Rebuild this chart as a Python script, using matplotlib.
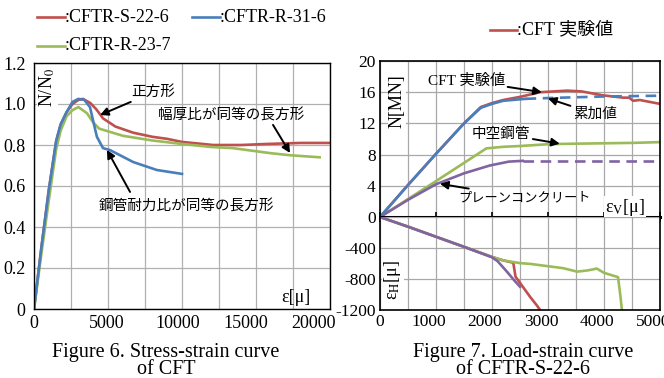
import matplotlib
matplotlib.use("Agg")
import matplotlib.pyplot as plt
from matplotlib.lines import Line2D
from matplotlib.transforms import ScaledTranslation

plt.rcParams["font.family"] = ["Liberation Serif", "Noto Sans CJK JP"]
plt.rcParams["mathtext.fontset"] = "stix"

JP = ["Noto Sans CJK JP", "Liberation Serif"]
SERIF_JP = ["Liberation Serif", "Noto Sans CJK JP"]

RED = "#c0504d"
BLUE = "#4a7ebb"
GREEN = "#9bbb59"
PURPLE = "#8064a2"

# ---- Figure 6 : N/N0 vs strain ----
s22_x = [0, 500, 1000, 1500, 1800, 2200, 2600, 3000, 3300, 3800, 4200, 4460, 4660, 5500, 6700, 8000, 9000, 10000,
         12100, 14000, 15700, 18000, 20000]
s22_y = [0, 0.30, 0.58, 0.82, 0.90, 0.96, 1.00, 1.02, 1.025, 1.005, 0.975, 0.95, 0.93, 0.89, 0.86, 0.84, 0.83, 0.815,
         0.80, 0.80, 0.805, 0.81, 0.81]
r31_x = [0, 500, 1000, 1500, 1800, 2200, 2600, 3000, 3400, 3780, 4250, 4660, 5140, 6700, 8300, 10000]
r31_y = [0, 0.30, 0.58, 0.82, 0.90, 0.96, 1.01, 1.025, 1.02, 0.985, 0.84, 0.785, 0.775, 0.717, 0.678, 0.659]
r23_x = [0, 500, 1000, 1500, 1800, 2200, 2600, 3000, 3580, 4000, 4400, 6000, 8000, 10000, 12000, 13400, 16000,
         17300, 19300]
r23_y = [0, 0.27, 0.53, 0.78, 0.87, 0.94, 0.97, 0.985, 0.955, 0.91, 0.88, 0.845, 0.822, 0.805, 0.79, 0.785, 0.76,
         0.75, 0.74]

# ---- Figure 7 : load / strain of CFTR-S-22-6 ----
cft_x = [0, 500, 1000, 1500, 1800, 2000, 2200, 2500, 2860, 3340, 3600, 3980, 4340, 4450, 4520, 4640, 5000]
cft_y = [0, 4.1, 8.1, 12.0, 14.1, 14.6, 15.0, 15.4, 16.0, 16.2, 16.1, 15.6, 15.3, 15.3, 14.9, 15.0, 14.5]
sum_x = [0, 500, 1000, 1500, 1800, 2000, 2200, 2600]
sum_y = [0, 4.1, 8.1, 12.0, 14.0, 14.5, 14.9, 15.15]
sum_dash_x = [2600, 3000, 3500, 4000, 4500, 5000]
sum_dash_y = [15.15, 15.25, 15.35, 15.45, 15.5, 15.55]
tube_x = [0, 1000, 1900, 2200, 2500, 3040, 3500, 4000, 4500, 5000]
tube_y = [0, 4.6, 8.8, 9.0, 9.1, 9.35, 9.4, 9.45, 9.5, 9.6]
conc_x = [0, 500, 1000, 1500, 1960, 2300, 2550]
conc_y = [0, 2.2, 4.2, 5.6, 6.6, 7.1, 7.2]
conc_dash_x = [2550, 5000]
conc_dash_y = [7.2, 7.2]

eh_cft_x = [0, 500, 1000, 1500, 2000, 2200, 2380, 2400, 2420, 2550, 2680, 2800, 2860]
eh_cft_y = [0, -125, -255, -385, -515, -560, -590, -680, -770, -900, -1030, -1140, -1200]
eh_tube_x = [0, 500, 1000, 1500, 2000, 2200, 2500, 2680, 3000, 3270, 3520, 3700, 3810, 3870, 4000, 4200, 4250,
             4290, 4320]
eh_tube_y = [0, -125, -255, -385, -515, -560, -595, -605, -635, -660, -705, -690, -675, -665, -720, -765, -775,
             -1000, -1200]
eh_conc_x = [0, 500, 1000, 1500, 2000, 2100, 2260, 2400, 2500]
eh_conc_y = [0, -125, -255, -385, -520, -570, -700, -820, -900]

W, H = 664, 378
fig = plt.figure(figsize=(W / 100, H / 100), dpi=100)


def fx(px):
    return px / W


def fy(py):
    return 1 - py / H


def shift_labels(a, offsets_px):
    # the original chart squeezes its x labels a little to the left
    for lab, dx in zip(a.xaxis.get_majorticklabels(), offsets_px):
        lab.set_transform(lab.get_transform() + ScaledTranslation(dx / 100, 0, fig.dpi_scale_trans))


# ================= left chart =================
ax = fig.add_axes([fx(34), fy(309), fx(330) - fx(34), fy(63) - fy(309)])
ax.plot(s22_x, s22_y, color=RED, lw=1.9)
ax.plot(r23_x, r23_y, color=GREEN, lw=1.9)
ax.plot(r31_x, r31_y, color=BLUE, lw=1.9)
ax.set_xlim(0, 20000)
ax.set_ylim(0, 1.2)
ax.set_xticks([0, 5000, 10000, 15000, 20000])
ax.set_xticks(range(0, 20001, 2500), minor=True)
ax.set_yticks([0, 0.2, 0.4, 0.6, 0.8, 1.0, 1.2])
ax.set_yticklabels(["0", "0.2", "0.4", "0.6", "0.8", "1.0", "1.2"])
ax.grid(True, which="both", color="#b0b0b0", lw=0.9)
ax.tick_params(which="both", length=0, labelsize=13, pad=4)
ax.tick_params(axis="y", pad=6)
for sp in ax.spines.values():
    sp.set_color("black")
    sp.set_linewidth(1.0)
ax.set_axisbelow(True)

ax.text(0.045, 0.90, "N/N$_0$", rotation=90, transform=ax.transAxes, ha="center", va="center", fontsize=13,
        bbox=dict(facecolor="white", edgecolor="none", pad=0.5))
ax.text(0.885, 0.045, "ε[μ]", transform=ax.transAxes, ha="center", va="center", fontsize=13)

arrow = dict(arrowstyle="-|>", color="black", lw=1.4, mutation_scale=12, shrinkA=0, shrinkB=0)
ax.annotate("正方形", xy=(4460, 0.946), xytext=(6600, 1.058), family=JP, fontsize=10.5,
            ha="left", va="center", arrowprops=arrow)
ax.annotate("", xy=(17300, 0.761), xytext=(16150, 0.898), arrowprops=arrow)
ax.text(8350, 0.946, "幅厚比が同等の長方形", family=JP, fontsize=10.5, ha="left", va="center")
ax.annotate("", xy=(4930, 0.776), xytext=(6490, 0.571), arrowprops=arrow)
ax.text(4400, 0.498, "鋼管耐力比が同等の長方形", family=JP, fontsize=10.5, ha="left", va="center")

# legend of left chart
for (x0, x1, y, c, lab) in [(37, 65, 17, RED, ":CFTR-S-22-6"), (192, 220, 17, BLUE, ":CFTR-R-31-6"),
                            (37, 65, 46, GREEN, ":CFTR-R-23-7")]:
    fig.add_artist(Line2D([fx(x0), fx(x1)], [fy(y), fy(y)], color=c, lw=1.9, transform=fig.transFigure))
    fig.text(fx(x1), fy(y), lab, fontsize=13, ha="left", va="center")

fig.text(0.25, fy(361), "Figure 6. Stress-strain curve\nof CFT", ha="center", va="center",
         multialignment="center", fontsize=14.5, linespacing=0.85)

# ================= right chart =================
axt = fig.add_axes([fx(380), fy(217), fx(660) - fx(380), fy(61) - fy(217)])
axb = fig.add_axes([fx(380), fy(310), fx(660) - fx(380), fy(217) - fy(310)])

axt.plot(cft_x, cft_y, color=RED, lw=1.9)
axt.plot(tube_x, tube_y, color=GREEN, lw=1.9)
axt.plot(conc_x, conc_y, color=PURPLE, lw=1.9)
axt.plot(conc_dash_x, conc_dash_y, color=PURPLE, lw=1.9, ls=(0, (4, 2.5)))
axt.plot(sum_x, sum_y, color=BLUE, lw=1.9)
axt.plot(sum_dash_x, sum_dash_y, color=BLUE, lw=1.9, ls=(0, (4, 2.5)))

axb.plot(eh_cft_x, eh_cft_y, color=RED, lw=1.9)
axb.plot(eh_tube_x, eh_tube_y, color=GREEN, lw=1.9)
axb.plot(eh_conc_x, eh_conc_y, color=PURPLE, lw=1.9)

for a in (axt, axb):
    a.set_xlim(0, 5000)
    a.set_xticks(range(0, 5001, 500), minor=True)
    a.set_xticks(range(0, 5001, 1000))
    a.grid(True, which="both", color="#a8a8a8", lw=0.9)
    a.set_axisbelow(True)
    for sp in a.spines.values():
        sp.set_color("black")
        sp.set_linewidth(1.2)
    a.tick_params(which="both", length=0, labelsize=12.5, pad=3)

axt.set_ylim(0, 20)
axt.set_yticks([0, 4, 8, 12, 16, 20])
axt.set_yticklabels(["", "4", "8", "12", "16", "20"])
axt.tick_params(axis="x", which="major", labelbottom=False, direction="inout", length=7, width=1.2)
axt.spines["bottom"].set_linewidth(2.2)

axb.set_ylim(-1200, 0)
axb.set_yticks([-1200, -800, -400, 0])
axb.set_yticklabels(["-1200", "-800", "-400", "0"])
axb.spines["top"].set_visible(False)

axt.text(0.06, 0.74, "N[MN]", rotation=90, transform=axt.transAxes, ha="center", va="center", fontsize=13,
         bbox=dict(facecolor="white", edgecolor="none", pad=0.5))
axt.text(0.875, 0.06, "ε$_\\mathrm{V}$[μ]", transform=axt.transAxes, ha="center", va="center", fontsize=13,
         bbox=dict(facecolor="white", edgecolor="none", pad=0.5))
axb.text(0.046, 0.32, "ε$_\\mathrm{H}$[μ]", rotation=90, transform=axb.transAxes, ha="center", va="center",
         fontsize=13, bbox=dict(facecolor="white", edgecolor="none", pad=0.5))

axt.annotate("CFT 実験値", xy=(2890, 16.0), xytext=(2230, 17.5), family=SERIF_JP, fontsize=11,
             ha="right", va="center", arrowprops=arrow)
axt.annotate("累加値", xy=(3000, 15.2), xytext=(3450, 14.1), family=JP, fontsize=10.5,
             ha="left", va="top", arrowprops=arrow)
axt.annotate("中空鋼管", xy=(3210, 9.4), xytext=(2680, 10.7), family=JP, fontsize=10.5,
             ha="right", va="center", arrowprops=arrow)
axt.annotate("プレーンコンクリート", xy=(1070, 4.26), xytext=(1390, 2.45), family=JP, fontsize=9.5,
             ha="left", va="center", arrowprops=arrow)

fig.add_artist(Line2D([fx(490), fx(517)], [fy(30), fy(30)], color=RED, lw=1.9, transform=fig.transFigure))
fig.text(fx(517), fy(30), ":CFT 実験値", family=SERIF_JP, fontsize=13, ha="left", va="center")

fig.text(fx(523), fy(361), "Figure 7. Load-strain curve\nof CFTR-S-22-6", ha="center", va="center",
         multialignment="center", fontsize=14.5, linespacing=0.85)

shift_labels(ax, [0, -1, -4, -10, -16])
shift_labels(axb, [0, -7, -7, -7, -7, -7])

fig.savefig("out.png", dpi=100)
